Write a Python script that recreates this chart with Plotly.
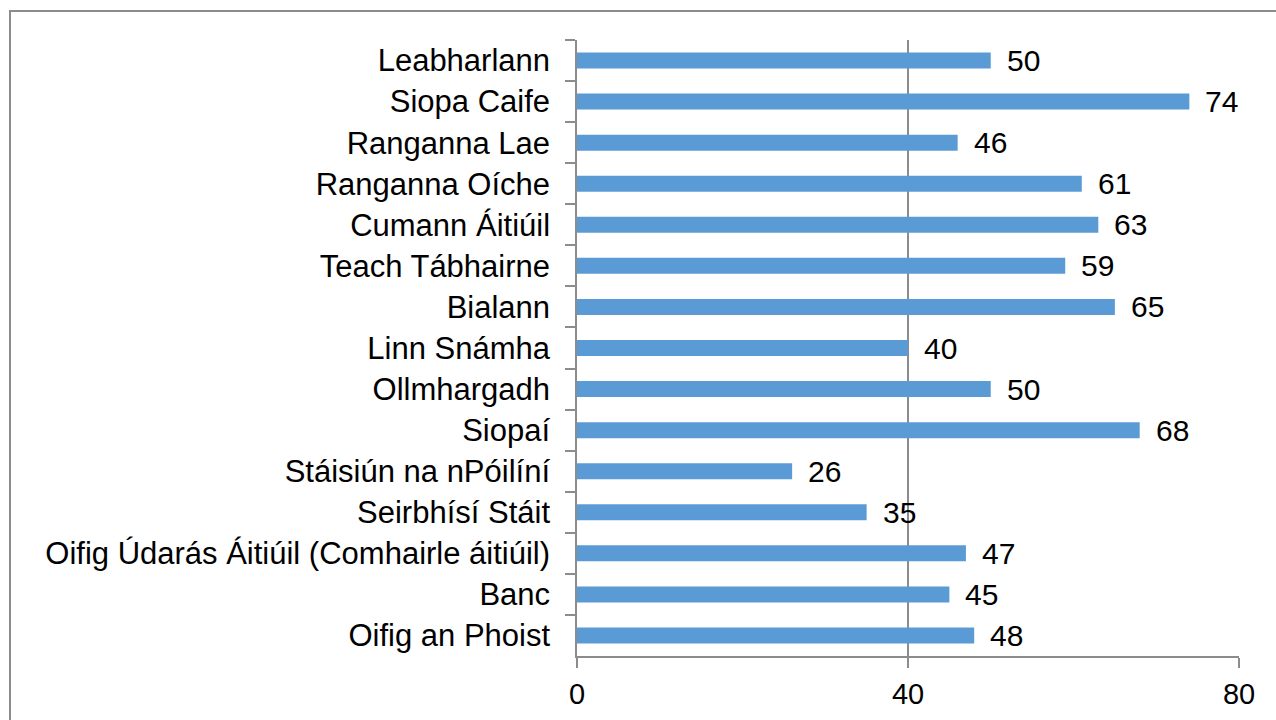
import plotly.graph_objects as go

# Facilities, listed top to bottom, with their counts
categories = [
    "Leabharlann",
    "Siopa Caife",
    "Ranganna Lae",
    "Ranganna Oíche",
    "Cumann Áitiúil",
    "Teach Tábhairne",
    "Bialann",
    "Linn Snámha",
    "Ollmhargadh",
    "Siopaí",
    "Stáisiún na nPóilíní",
    "Seirbhísí Stáit",
    "Oifig Údarás Áitiúil (Comhairle áitiúil)",
    "Banc",
    "Oifig an Phoist",
]
values = [50, 74, 46, 61, 63, 59, 65, 40, 50, 68, 26, 35, 47, 45, 48]
x_ticks = [0, 40, 80]

BAR_COLOR = "#5b9bd5"
LINE_COLOR = "#8c8c8c"
FONT = "Liberation Sans, Arial, sans-serif"

fig = go.Figure(
    go.Bar(
        x=values,
        y=categories,
        orientation="h",
        marker=dict(color=BAR_COLOR, line=dict(width=0)),
        hoverinfo="x+y",
    )
)

# Value labels just past the end of each bar
for cat, val in zip(categories, values):
    fig.add_annotation(
        x=val, y=cat, text=str(val), showarrow=False,
        xanchor="left", yanchor="middle", xshift=14, yshift=0,
        font=dict(family=FONT, size=30, color="black"),
    )

# Outer chart frame
fig.add_shape(
    type="rect", xref="paper", yref="paper",
    x0=-0.8565, x1=1.2, y0=-0.3, y1=1.047,
    line=dict(color=LINE_COLOR, width=2), fillcolor="rgba(0,0,0,0)",
    layer="below",
)

fig.update_layout(
    width=1276, height=720,
    margin=dict(l=577, r=37, t=40, b=64, autoexpand=False),
    paper_bgcolor="white", plot_bgcolor="white",
    bargap=0.61,
    showlegend=False,
    font=dict(family=FONT, color="black"),
    xaxis=dict(
        range=[0, 80], tickvals=x_ticks, ticktext=[str(t) for t in x_ticks],
        showgrid=True, gridcolor=LINE_COLOR, gridwidth=1.5,
        showline=True, linecolor=LINE_COLOR, linewidth=1.5,
        ticks="outside", ticklen=10, tickcolor=LINE_COLOR, tickwidth=1.5,
        ticklabelstandoff=1,
        tickfont=dict(family=FONT, size=29, color="black"),
        zeroline=False, fixedrange=True, automargin=False,
    ),
    yaxis=dict(
        autorange="reversed",
        showgrid=False,
        showline=True, linecolor=LINE_COLOR, linewidth=1.5,
        ticks="outside", tickson="boundaries", ticklen=10,
        tickcolor=LINE_COLOR, tickwidth=1.5,
        ticklabelstandoff=19,
        tickfont=dict(family=FONT, size=31, color="black"),
        fixedrange=True, automargin=False,
    ),
)

fig.write_html("out.html")
